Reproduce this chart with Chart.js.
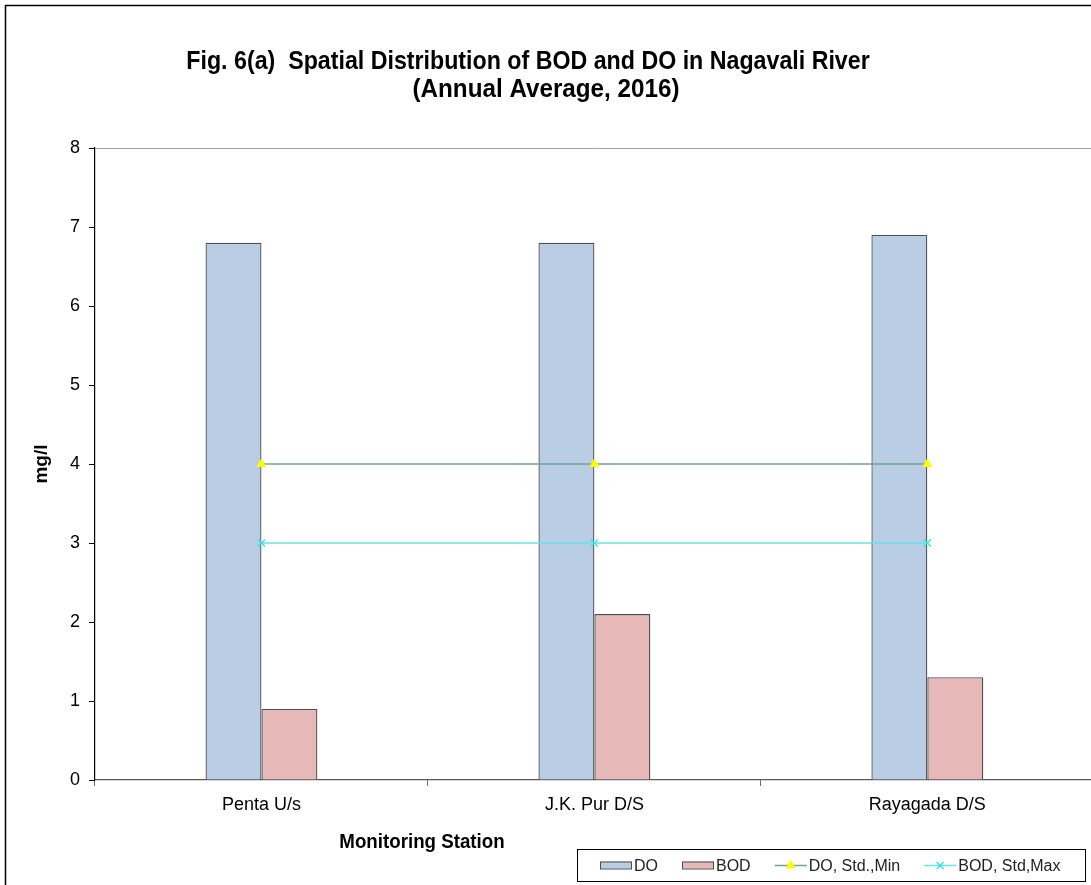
<!DOCTYPE html>
<html>
<head>
<meta charset="utf-8">
<script src="https://cdn.jsdelivr.net/npm/chart.js@4.4.1/dist/chart.umd.min.js"></script>
<style>
  html, body { margin: 0; padding: 0; background: #fff; overflow: hidden; width: 1091px; height: 885px; }
  #wrap { position: absolute; left: 0; top: 0; width: 1100px; height: 885px; }
</style>
</head>
<body>
<div id="wrap"><canvas id="c" width="1100" height="885"></canvas></div>
<script>
// Monitoring stations along the river
const stations = ['Penta U/s', 'J.K. Pur D/S', 'Rayagada D/S'];
// Annual average dissolved oxygen (mg/l)
const doValues = [6.8, 6.8, 6.9];
// Annual average biochemical oxygen demand (mg/l)
const bodValues = [0.9, 2.1, 1.3];
// Water quality criteria
const doStdMin = [4, 4, 4];
const bodStdMax = [3, 3, 3];
// Value axis range
const yMin = 0;
const yMax = 8;
const yStep = 1;

const titleLines = ['Fig. 6(a)  Spatial Distribution of BOD and DO in Nagavali River', '(Annual Average, 2016)'];
const xTitle = 'Monitoring Station';
const yTitle = 'mg/l';

const FONT = "'Liberation Sans', Arial, Helvetica, sans-serif";
Chart.defaults.font.family = FONT;

// Narrow bold text, centred on (cx, cy)
function condensedText(ctx, text, cx, cy, size, squeeze) {
  ctx.save();
  ctx.font = 'bold ' + size + 'px ' + FONT;
  ctx.textAlign = 'center';
  ctx.textBaseline = 'middle';
  ctx.translate(cx, cy);
  ctx.scale(squeeze, 1);
  ctx.fillText(text, 0, 0);
  ctx.restore();
}

const decorations = {
  id: 'decorations',
  beforeDraw(chart) {
    const ctx = chart.ctx;
    ctx.save();
    ctx.fillStyle = '#ffffff';
    ctx.fillRect(0, 0, chart.width, chart.height);
    ctx.restore();
  },
  afterDraw(chart) {
    const ctx = chart.ctx;
    ctx.save();
    // outer frame of the figure
    ctx.strokeStyle = '#000';
    ctx.lineWidth = 1.5;
    ctx.beginPath();
    ctx.moveTo(5.5, chart.height);
    ctx.lineTo(5.5, 5.5);
    ctx.lineTo(chart.width, 5.5);
    ctx.stroke();

    // figure title
    ctx.fillStyle = '#000';
    condensedText(ctx, titleLines[0], 528, 62, 25.5, 0.91);
    condensedText(ctx, titleLines[1], 546, 90, 25.5, 0.95);

    // category axis title
    condensedText(ctx, xTitle, 422, 843, 19.5, 0.96);

    // legend box
    const box = { x: 577.5, y: 849.5, w: 508, h: 32 };
    ctx.strokeStyle = '#000';
    ctx.lineWidth = 1;
    ctx.strokeRect(box.x, box.y, box.w, box.h);
    const cy = box.y + box.h / 2;
    ctx.font = '16px ' + FONT;
    ctx.textAlign = 'left';
    ctx.textBaseline = 'middle';
    let x = 600;
    chart.data.datasets.forEach(ds => {
      if (ds.type === 'line') {
        ctx.strokeStyle = ds.borderColor;
        ctx.lineWidth = ds.borderWidth;
        ctx.beginPath();
        ctx.moveTo(x, cy);
        ctx.lineTo(x + 32, cy);
        ctx.stroke();
        ctx.fillStyle = ds.pointBackgroundColor;
        ctx.strokeStyle = ds.pointBorderColor;
        ctx.lineWidth = ds.pointBorderWidth;
        Chart.helpers.drawPoint(ctx, { pointStyle: ds.pointStyle, radius: ds.pointRadius, rotation: 0, borderWidth: ds.pointBorderWidth }, x + 16, cy);
      } else {
        ctx.fillStyle = ds.backgroundColor;
        ctx.fillRect(x, cy - 4, 32, 7);
        ctx.strokeStyle = ds.borderColor;
        ctx.lineWidth = 1;
        ctx.strokeRect(x + 0.5, cy - 3.5, 31, 7);
      }
      ctx.fillStyle = '#222';
      ctx.fillText(ds.label, x + 34, cy + 1);
      x += 34 + ctx.measureText(ds.label).width + 24;
    });
    ctx.restore();
  }
};

new Chart(document.getElementById('c'), {
  type: 'bar',
  data: {
    labels: stations,
    datasets: [
      {
        label: 'DO', data: doValues, order: 2,
        backgroundColor: '#b9cde5', borderColor: '#4d4d4d', borderWidth: 1.3,
        categoryPercentage: 0.336, barPercentage: 1.0
      },
      {
        label: 'BOD', data: bodValues, order: 2,
        backgroundColor: '#e6b9b8', borderColor: '#4d4d4d', borderWidth: 1.3,
        categoryPercentage: 0.336, barPercentage: 1.0
      },
      {
        type: 'line', label: 'DO, Std.,Min', data: doStdMin, order: 0,
        borderColor: '#74a290', borderWidth: 1.5, fill: false, tension: 0,
        pointStyle: 'triangle', pointRadius: 5,
        pointBackgroundColor: '#ffff00', pointBorderColor: '#ffff00', pointBorderWidth: 1
      },
      {
        type: 'line', label: 'BOD, Std,Max', data: bodStdMax, order: 1,
        borderColor: '#66e3e6', borderWidth: 1.5, fill: false, tension: 0,
        pointStyle: 'crossRot', pointRadius: 5,
        pointBackgroundColor: '#33e0e6', pointBorderColor: '#33e0e6', pointBorderWidth: 1.2
      }
    ]
  },
  options: {
    responsive: false,
    devicePixelRatio: 1,
    animation: false,
    layout: { padding: { left: 0, right: 6, top: 148, bottom: 0 } },
    plugins: { legend: { display: false }, title: { display: false }, tooltip: { enabled: false } },
    scales: {
      x: {
        offset: true,
        grid: { offset: true, drawOnChartArea: false, drawTicks: true, tickLength: 6, color: '#6a6a6a', tickColor: '#6a6a6a' },
        border: { color: '#5a5a5a', width: 1.2 },
        ticks: { color: '#000', font: { size: 18 }, padding: 8 },
        afterFit: s => { s.height = 105; }
      },
      y: {
        min: yMin, max: yMax,
        ticks: { stepSize: yStep, color: '#000', font: { size: 18 }, padding: 9 },
        grid: {
          drawTicks: true, tickLength: 6, tickColor: '#000',
          color: c => (c.tick && c.tick.value === yMax) ? '#a0a0a0' : 'rgba(0,0,0,0)'
        },
        border: { color: '#000', width: 1.2 },
        title: { display: true, text: yTitle, color: '#000', font: { size: 19, weight: 'bold' }, padding: { top: 30, bottom: 0 } },
        afterFit: s => { s.width = 95; }
      }
    }
  },
  plugins: [decorations]
});
</script>
</body>
</html>
